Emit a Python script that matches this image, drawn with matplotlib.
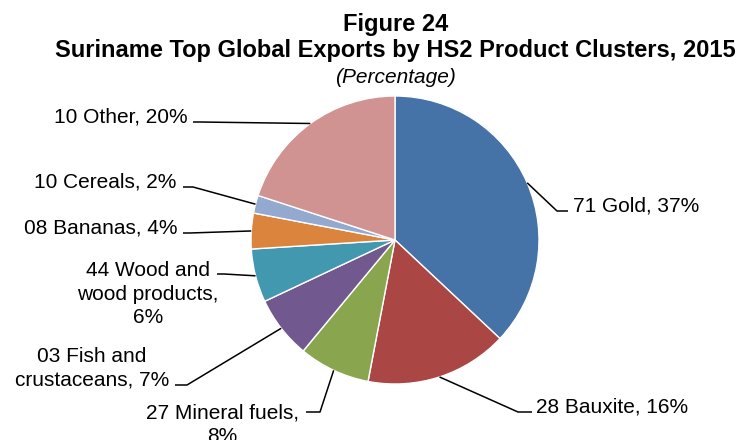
"""Suriname top global exports by HS2 product clusters, 2015 (pie chart)."""
import numpy as np
import matplotlib
matplotlib.use("Agg")
import matplotlib.pyplot as plt

plt.rcParams['font.family'] = ['Liberation Sans', 'DejaVu Sans']

# ---- data -------------------------------------------------------------
categories = ["71 Gold", "28 Bauxite", "27 Mineral fuels",
              "03 Fish and crustaceans", "44 Wood and wood products",
              "08 Bananas", "10 Cereals", "10 Other"]
shares = [37, 16, 8, 7, 6, 4, 2, 20]
label_texts = ["71 Gold, 37%", "28 Bauxite, 16%", "27 Mineral fuels,\n8%",
               "03 Fish and\ncrustaceans, 7%",
               "44 Wood and\nwood products,\n6%",
               "08 Bananas, 4%", "10 Cereals, 2%", "10 Other, 20%"]
colors = ["#4572A7", "#AA4643", "#89A54E", "#71588F", "#4198AF",
          "#DB843D", "#93A9CF", "#D19392"]

# ---- layout (pixel units, y measured from the top) --------------------
W, H = 744, 440
center_px = (395, 240)
radius_px = 144
# text anchor x, last-line baseline y, alignment
label_pos = [(573, 211, "left"), (536, 412, "left"), (222, 442, "center"),
             (92, 385, "center"), (148, 323, "center"),
             (177, 233, "right"), (176, 187, "right"), (188, 122, "right")]
# leader bend point and end point next to the label
leader_bend = [(557, 211), (518, 412), (320, 412), (187, 385), (224, 274),
               (190, 233), (193, 187), (200, 122)]
leader_end = [(568, 211), (532, 412), (306, 412), (175, 385), (217, 274),
              (183, 233), (183, 187), (193, 122)]


def px(x, y):
    """Convert pixel coordinates (y down) to data coordinates (y up)."""
    return x, H - y


fig = plt.figure(figsize=(W / 100, H / 100), dpi=100)
ax = fig.add_axes([0, 0, 1, 1])

cx, cy = px(*center_px)
wedges, _ = ax.pie(shares, colors=colors, startangle=90, counterclock=False,
                   center=(cx, cy), radius=radius_px,
                   wedgeprops=dict(edgecolor="white", linewidth=1.0))
ax.set_xlim(0, W)
ax.set_ylim(0, H)
ax.set_aspect("equal")
ax.axis("off")

for w, txt, (tx, ty, ha), bend, end in zip(wedges, label_texts, label_pos,
                                           leader_bend, leader_end):
    mid = np.deg2rad((w.theta1 + w.theta2) / 2)
    sx = cx + radius_px * np.cos(mid)
    sy = cy + radius_px * np.sin(mid)
    bx, by = px(*bend)
    ex, ey = px(*end)
    ax.plot([sx, bx, ex], [sy, by, ey], color="black", lw=1.1,
            solid_capstyle="butt", zorder=3)
    x, y = px(tx, ty)
    ax.text(x, y, txt, ha=ha, va="baseline", multialignment="center",
            fontsize=15, linespacing=1.3, color="black")

tx = 395.5 / W
fig.text(tx, 1 - 31 / H, "Figure 24", ha="center", va="baseline",
         fontsize=17, fontweight="bold")
fig.text(tx, 1 - 57 / H,
         "Suriname Top Global Exports by HS2 Product Clusters, 2015",
         ha="center", va="baseline", fontsize=17, fontweight="bold")
fig.text(tx, 1 - 83 / H, "(Percentage)", ha="center", va="baseline",
         fontsize=15, fontstyle="italic")

fig.savefig("out.png", dpi=100)
